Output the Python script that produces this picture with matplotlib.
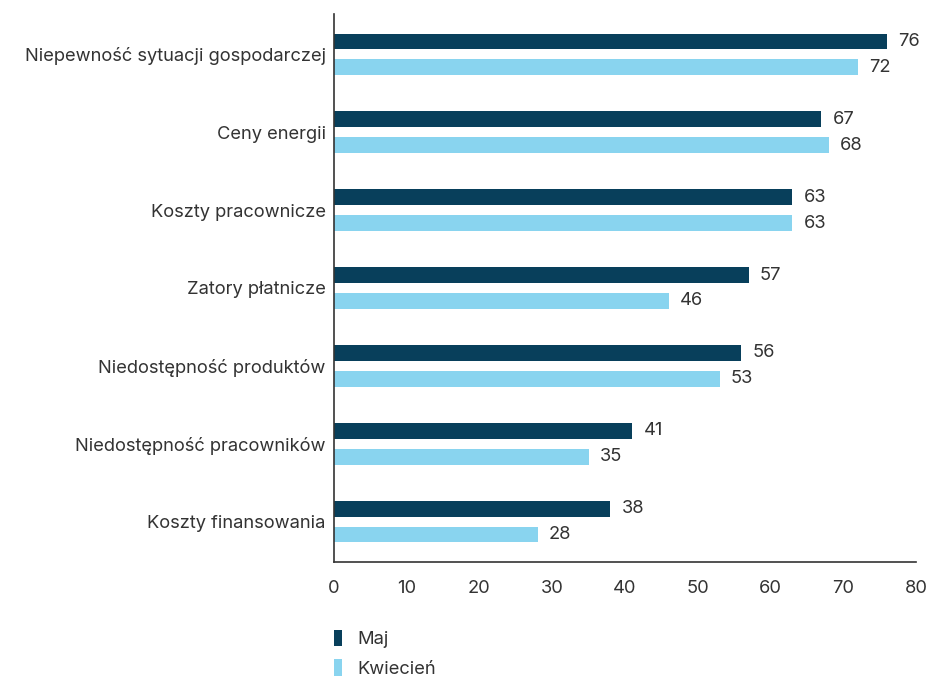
import matplotlib
matplotlib.use("Agg")
import matplotlib.pyplot as plt
import numpy as np

categories = [
    "Niepewność sytuacji gospodarczej",
    "Ceny energii",
    "Koszty pracownicze",
    "Zatory płatnicze",
    "Niedostępność produktów",
    "Niedostępność pracowników",
    "Koszty finansowania",
]
maj = [76, 67, 63, 57, 56, 41, 38]
kwiecien = [72, 68, 63, 46, 53, 35, 28]
series_names = ["Maj", "Kwiecień"]
xticks = [0, 10, 20, 30, 40, 50, 60, 70, 80]

dark = "#083f5b"
light = "#89d4ef"
text_color = "#333333"
fs = 13.2

plt.rcParams["font.family"] = ["Inter", "DejaVu Sans"]

fig = plt.figure(figsize=(9.29, 6.78), dpi=100)
ax = fig.add_axes([334 / 929, 1 - 562 / 678, (916 - 334) / 929, (562 - 14) / 678])

y = np.arange(len(categories))
h = 16 / 78
off = 13 / 78

b1 = ax.barh(y - off, maj, height=h, color=dark, label=series_names[0])
b2 = ax.barh(y + off, kwiecien, height=h, color=light, label=series_names[1])

for bars, vals in ((b1, maj), (b2, kwiecien)):
    for bar, v in zip(bars, vals):
        ax.annotate(str(v), (v, bar.get_y() + bar.get_height() / 2),
                    xytext=(8, 0), textcoords="offset points",
                    va="center", ha="left", fontsize=fs, color=text_color)

ax.set_ylim(len(categories) - 0.48, -0.52)
ax.set_xlim(0, 80)
ax.set_xticks(xticks)
ax.set_xticklabels([str(t) for t in xticks])
ax.set_yticks(y)
ax.set_yticklabels(categories)
ax.tick_params(axis="both", length=0, labelsize=fs, colors=text_color)
ax.tick_params(axis="x", pad=13)
ax.tick_params(axis="y", pad=6)

for s in ("top", "right"):
    ax.spines[s].set_visible(False)
for s in ("left", "bottom"):
    ax.spines[s].set_color("#333333")
    ax.spines[s].set_linewidth(1.2)

fs_px = fs * 100 / 72
leg = fig.legend(handles=[b1, b2], labels=series_names,
                 loc="upper left", bbox_to_anchor=(334 / 929, 1 - 630 / 678),
                 frameon=False, fontsize=fs, handlelength=8 / fs_px, handleheight=1.0,
                 handletextpad=15 / fs_px, labelspacing=0.58, borderaxespad=0, borderpad=0)
for t in leg.get_texts():
    t.set_color(text_color)

fig.savefig("out.png", dpi=100)
